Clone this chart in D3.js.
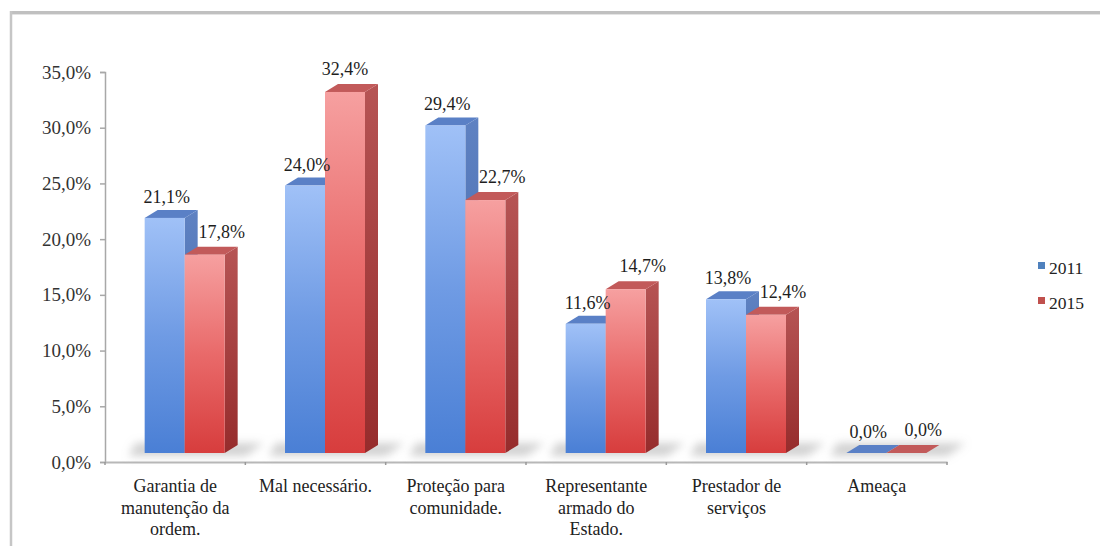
<!DOCTYPE html>
<html>
<head>
<meta charset="utf-8">
<script src="https://cdn.jsdelivr.net/npm/d3@7/dist/d3.min.js"></script>
</head>
<body style="margin:0">
<svg id="chart" width="1100" height="546"></svg>
<script>
// ---- data ----
const categories = [
  "Garantia de manutenção da ordem.",
  "Mal necessário.",
  "Proteção para comunidade.",
  "Representante armado do Estado.",
  "Prestador de serviços",
  "Ameaça"
];
const categoryLines = [
  ["Garantia de", "manutenção da", "ordem."],
  ["Mal necessário."],
  ["Proteção para", "comunidade."],
  ["Representante", "armado do", "Estado."],
  ["Prestador de", "serviços"],
  ["Ameaça"]
];
const seriesNames = ["2011", "2015"];
const values2011 = [21.1, 24.0, 29.4, 11.6, 13.8, 0.0];
const values2015 = [17.8, 32.4, 22.7, 14.7, 12.4, 0.0];
const yTicks = [0, 5, 10, 15, 20, 25, 30, 35];

// ---- setup ----
const svg = d3.select("#chart");
const W = 1100, H = 546;
const FONT = "'Liberation Serif'";
const fmt = v => v.toFixed(1).replace(".", ",") + "%";

svg.append("rect").attr("width", W).attr("height", H).attr("fill", "#fff");

// frame (top and left edges visible)
svg.append("line").attr("x1", 10).attr("x2", W).attr("y1", 12.5).attr("y2", 12.5)
  .attr("stroke", "#c0c0c0").attr("stroke-width", 3);
svg.append("line").attr("x1", 11).attr("x2", W).attr("y1", 14.5).attr("y2", 14.5)
  .attr("stroke", "#e4e4e4").attr("stroke-width", 1);
svg.append("line").attr("x1", 11).attr("x2", 11).attr("y1", 11).attr("y2", H)
  .attr("stroke", "#c6c6c6").attr("stroke-width", 2.5);

const x = d3.scaleBand().domain(d3.range(categories.length)).range([105, 947]);
const y = d3.scaleLinear().domain([0, 35]).range([462, 72]);
const color = d3.scaleOrdinal().domain(seriesNames).range(["#4f81bd", "#c0504d"]);

// ---- defs ----
const defs = svg.append("defs");
function vgrad(id, stops) {
  const g = defs.append("linearGradient").attr("id", id)
    .attr("x1", 0).attr("y1", 0).attr("x2", 0).attr("y2", 1);
  stops.forEach(s => g.append("stop").attr("offset", s[0]).attr("stop-color", s[1]));
}
vgrad("bFront", [[0, "#a0c1f7"], [0.5, "#6f9be4"], [1, "#4a7fd5"]]);
vgrad("rFront", [[0, "#f6a0a0"], [0.5, "#e96a6a"], [1, "#d73d3d"]]);
vgrad("bSide", [[0, "#5f82c2"], [1, "#3d63a8"]]);
vgrad("rSide", [[0, "#b65454"], [1, "#962c2c"]]);
const blur = defs.append("filter").attr("id", "shadowBlur")
  .attr("x", "-50%").attr("y", "-150%").attr("width", "200%").attr("height", "400%");
blur.append("feGaussianBlur").attr("stdDeviation", 4.5);

const faceFill = [
  { front: "url(#bFront)", side: "url(#bSide)", top: "#5a80c6" },
  { front: "url(#rFront)", side: "url(#rSide)", top: "#c25a5a" }
];

// ---- axes ----
const yAxis = svg.append("g").attr("transform", "translate(105,0)")
  .call(d3.axisLeft(y).tickValues(yTicks).tickSize(5).tickPadding(9).tickFormat(fmt));
yAxis.attr("font-family", null).attr("font-size", null);
yAxis.select(".domain").attr("stroke", "#a8a8a8").attr("stroke-width", 1.5);
yAxis.selectAll(".tick line").attr("stroke", "#a8a8a8").attr("stroke-width", 1.5);
yAxis.selectAll(".tick text")
  .attr("fill", "#333").style("font-family", FONT).style("font-size", "19px");

// x axis line with boundary ticks
const xAxis = svg.append("g").attr("transform", `translate(0,${y(0)})`)
  .call(d3.axisBottom(x).tickSize(0).tickFormat(""));
xAxis.select(".domain").attr("stroke", "#b8b8b8").attr("stroke-width", 2);
const bounds = x.domain().map(d => x(d)).concat([x.range()[1]]);
xAxis.selectAll("line.bound").data(bounds).join("line").attr("class", "bound")
  .attr("x1", d => d).attr("x2", d => d).attr("y1", 0).attr("y2", 3)
  .attr("stroke", "#999").attr("stroke-width", 1.5);

// category labels
categoryLines.forEach((lines, i) => {
  const cx = x(i) + x.bandwidth() / 2;
  lines.forEach((ln, j) => {
    svg.append("text")
      .attr("x", cx).attr("y", y(0) + 30 + j * 21.5)
      .attr("text-anchor", "middle").attr("fill", "#222")
      .style("font-family", FONT)
      .style("font-size", "18px").text(ln);
  });
});

// ---- 3D bars ----
const BW = 40, DX = 13, DY = -8, OX = 9.5, OY = -9;
const seriesVals = [values2011, values2015];
const shadowG = svg.append("g").attr("filter", "url(#shadowBlur)");
const barsG = svg.append("g");
const labelsG = svg.append("g");

categories.forEach((c, i) => {
  const cx = x(i) + x.bandwidth() / 2 + OX;
  const gl = cx - BW, gr = cx + BW;
  const base = y(0) + OY;
  // floor shadow
  shadowG.append("polygon")
    .attr("points", [
      [gl - 16, base + 3], [gr + DX + 8, base + 3],
      [gr + DX + 26, base + DY - 2], [gl + DX - 22, base + DY - 2]
    ].map(p => p.join(",")).join(" "))
    .attr("fill", "#9a9a9a").attr("opacity", 0.45);

  seriesVals.forEach((vals, s) => {
    const v = vals[i];
    const fl = gl + s * BW, fr = fl + BW;
    const top = y(v) + OY;
    const f = faceFill[s];
    const g = barsG.append("g");
    g.append("polygon")
      .attr("points", [[fr, top], [fr + DX, top + DY], [fr + DX, base + DY], [fr, base]].map(p => p.join(",")).join(" "))
      .attr("fill", f.side);
    g.append("polygon")
      .attr("points", [[fl, top], [fr, top], [fr + DX, top + DY], [fl + DX, top + DY]].map(p => p.join(",")).join(" "))
      .attr("fill", f.top);
    if (base - top > 0) {
      g.append("rect").attr("x", fl).attr("y", top).attr("width", BW).attr("height", base - top)
        .attr("fill", f.front);
    }
    // data label
    let lx = fl + BW / 2 + 2;
    if (s === 1) lx = fl + BW / 2 + ((values2015[i] - values2011[i] > 5) ? 0 : 17);
    labelsG.append("text")
      .attr("x", lx).attr("y", top - (s === 0 ? 15 : 17))
      .attr("text-anchor", "middle").attr("fill", "#1e1e1e")
      .style("font-family", FONT)
      .style("font-size", "18px").text(fmt(v));
  });
});

// ---- legend ----
const legend = svg.append("g").attr("transform", "translate(1038,262)");
seriesNames.forEach((n, k) => {
  legend.append("rect").attr("x", 0).attr("y", k * 35).attr("width", 7).attr("height", 7)
    .attr("fill", color(n));
  legend.append("text")
    .attr("x", 11).attr("y", k * 35 + 12)
    .attr("fill", "#222").style("font-family", FONT)
    .style("font-size", "17.5px").text(n);
});
</script>
</body>
</html>
